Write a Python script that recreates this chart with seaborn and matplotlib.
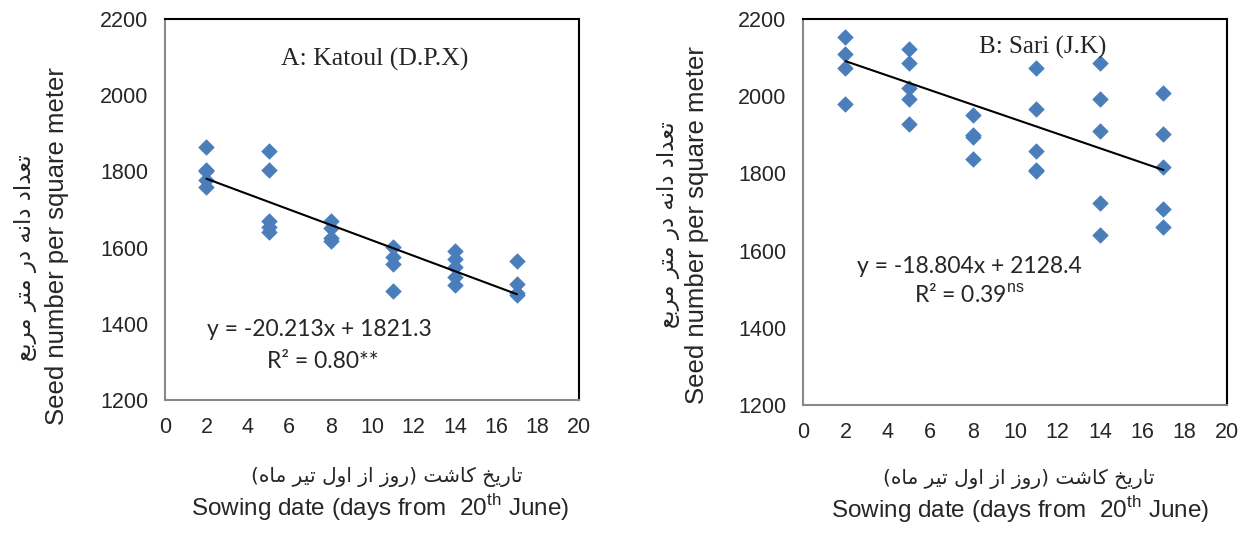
import numpy as np
import pandas as pd
import seaborn as sns
import matplotlib.pyplot as plt

# ---- data ----
days = [2, 5, 8, 11, 14, 17]

katoul_x = [2, 2, 2, 2, 2,
            5, 5, 5, 5, 5,
            8, 8, 8, 8,
            11, 11, 11, 11,
            14, 14, 14, 14, 14,
            17, 17, 17, 17]
katoul_y = [1863, 1805, 1800, 1777, 1758,
            1853, 1805, 1670, 1655, 1642,
            1670, 1652, 1626, 1618,
            1602, 1576, 1558, 1486,
            1591, 1569, 1549, 1523, 1501,
            1564, 1504, 1481, 1475]

sari_x = [2, 2, 2, 2,
          5, 5, 5, 5, 5,
          8, 8, 8, 8,
          11, 11, 11, 11, 11,
          14, 14, 14, 14, 14,
          17, 17, 17, 17, 17]
sari_y = [2153, 2108, 2073, 1981,
          2122, 2086, 2022, 1992, 1929,
          1951, 1899, 1893, 1837,
          2074, 1966, 1857, 1810, 1806,
          2086, 1992, 1910, 1724, 1640,
          2007, 1903, 1817, 1707, 1660]

# trendline coefficients printed on the chart
katoul_fit = (-20.213, 1821.3)
sari_fit = (-18.804, 2128.4)

titles = ["A: Katoul (D.P.X)", "B: Sari (J.K)"]
eq_texts = ["y = -20.213x + 1821.3", "y = -18.804x + 2128.4"]
r2_texts = ["R² = 0.80**", r"R² = 0.39$^{\rm ns}$"]

# Persian labels, written in visual order with presentation forms
fa_ylabel = ("\uFECA\uFE91\uFEAE\uFEE3 \uFEAE\uFE98\uFEE3 \uFEAD\uFEA9 "
             "\uFEEA\uFEE7\uFE8D\uFEA9 \uFEA9\uFE8D\uFEAA\uFECC\uFE97")
fa_xlabel = ("(\uFEE9\uFE8E\uFEE3 \uFEAE\uFBFF\uFE97 \uFEDD\uFEED\uFE8D "
             "\uFEAF\uFE8D \uFEAF\uFEED\uFEAD) \uFE96\uFEB7\uFE8E\uFB90 "
             "\uFEA6\uFBFE\uFEAD\uFE8E\uFE97")
en_ylabel = "Seed number per square meter"
en_xlabel = r"Sowing date (days from  20$^{\rm th}$ June)"

sns.set_style("white")
plt.rcParams['font.family'] = ['Liberation Sans', 'DejaVu Sans']
plt.rcParams['mathtext.fontset'] = 'custom'
plt.rcParams['mathtext.rm'] = 'Liberation Sans'

fig = plt.figure(figsize=(12.52, 5.33), dpi=100)
ax_a = fig.add_axes([0.1318, 0.2495, 0.3307, 0.7148])
ax_b = fig.add_axes([0.6414, 0.2402, 0.3387, 0.7242])

panels = [
    (ax_a, katoul_x, katoul_y, katoul_fit),
    (ax_b, sari_x, sari_y, sari_fit),
]

for i, (ax, xs, ys, fit) in enumerate(panels):
    df = pd.DataFrame({"x": xs, "y": ys})
    sns.scatterplot(data=df, x="x", y="y", ax=ax, marker="D", s=62,
                    color="#4a7ebb", edgecolor="#4a7ebb", linewidth=0.5, zorder=3)
    line = pd.DataFrame({"x": [days[0], days[-1]]})
    line["y"] = fit[0] * line["x"] + fit[1]
    sns.lineplot(data=line, x="x", y="y", ax=ax, color="black", linewidth=1.5, zorder=4)

    ax.set_xlim(0, 20)
    ax.set_ylim(1200, 2200)
    ax.set_xticks(range(0, 21, 2))
    ax.set_yticks(range(1200, 2201, 200))
    ax.tick_params(length=0, labelsize=15.5)
    ax.tick_params(axis="x", pad=12)
    ax.tick_params(axis="y", pad=12)
    ax.set_xlabel("")
    ax.set_ylabel("")
    for side in ["left", "bottom"]:
        ax.spines[side].set_color("#888888")
        ax.spines[side].set_linewidth(1.5)
    for side in ["top", "right"]:
        ax.spines[side].set_color("black")
        ax.spines[side].set_linewidth(1.5)

ax_a.text(0.507, 0.895, titles[0], transform=ax_a.transAxes, ha="center", va="center",
          fontsize=18.5, family="Liberation Serif")
ax_b.text(0.565, 0.925, titles[1], transform=ax_b.transAxes, ha="center", va="center",
          fontsize=18, family="Liberation Serif")

ax_a.text(0.374, 0.185, eq_texts[0], transform=ax_a.transAxes, ha="center", va="center",
          fontsize=16.5, family="Lato")
ax_a.text(0.38, 0.1, r2_texts[0], transform=ax_a.transAxes, ha="center", va="center",
          fontsize=16.5, family="Lato")
ax_b.text(0.392, 0.36, eq_texts[1], transform=ax_b.transAxes, ha="center", va="center",
          fontsize=16.5, family="Lato")
ax_b.text(0.391, 0.285, r2_texts[1], transform=ax_b.transAxes, ha="center", va="center",
          fontsize=16.5, family="Lato")

# axis titles (Persian + English), placed on the figure
for cx_fa, cx_en, cy_fa, cy_en in [(26, 57, 258, 246), (668, 697, 225, 225)]:
    fig.text(cx_fa / 1252, 1 - cy_fa / 533, fa_ylabel, rotation=90, ha="center", va="center",
             fontsize=16.5, family=["DejaVu Sans"])
    fig.text(cx_en / 1252, 1 - cy_en / 533, en_ylabel, rotation=90, ha="center", va="center",
             fontsize=18.5)

for cx_fa, cx_en, cy_fa, cy_en in [(387, 380, 477, 508), (1019, 1020, 479, 510)]:
    fig.text(cx_fa / 1252, 1 - cy_fa / 533, fa_xlabel, ha="center", va="center",
             fontsize=14.5, family=["DejaVu Sans"])
    fig.text(cx_en / 1252, 1 - cy_en / 533, en_xlabel, ha="center", va="center",
             fontsize=17.5)

fig.savefig("out.png", dpi=100)
